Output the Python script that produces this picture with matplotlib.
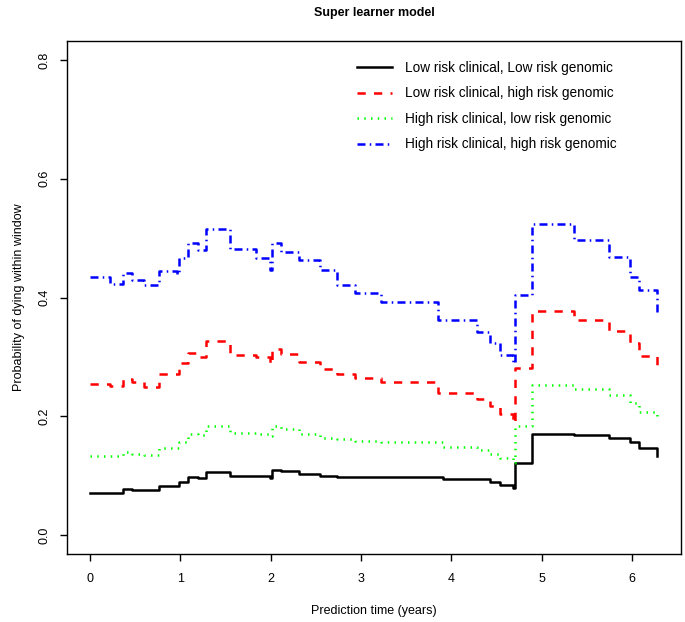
import matplotlib
matplotlib.use("Agg")
import matplotlib.pyplot as plt

plt.rcParams['font.family'] = ['Liberation Sans', 'DejaVu Sans']

# prediction times where the step curves change (years)
times = [0.00, 0.22, 0.37, 0.46, 0.60, 0.76, 0.96, 0.99, 1.09, 1.20, 1.29,
         1.55, 1.84, 1.99, 2.02, 2.12, 2.31, 2.55, 2.73, 2.93, 3.22, 3.85,
         3.91, 4.28, 4.43, 4.54, 4.68, 4.71, 4.89, 5.36, 5.75, 5.98, 6.08,
         6.28]

low_low = [0.071, 0.071, 0.077, 0.076, 0.075, 0.083, 0.083, 0.090, 0.098,
           0.096, 0.106, 0.100, 0.099, 0.096, 0.109, 0.107, 0.103, 0.100,
           0.098, 0.097, 0.097, 0.098, 0.095, 0.094, 0.089, 0.084, 0.079,
           0.122, 0.170, 0.168, 0.164, 0.157, 0.146, 0.133]

low_high = [0.254, 0.251, 0.262, 0.258, 0.250, 0.271, 0.271, 0.289, 0.306,
            0.300, 0.327, 0.303, 0.299, 0.288, 0.314, 0.305, 0.292, 0.279,
            0.272, 0.264, 0.257, 0.240, 0.240, 0.229, 0.217, 0.204, 0.188,
            0.282, 0.378, 0.362, 0.344, 0.324, 0.302, 0.273]

high_low = [0.133, 0.133, 0.140, 0.137, 0.134, 0.147, 0.147, 0.157, 0.170,
            0.168, 0.184, 0.172, 0.170, 0.167, 0.184, 0.178, 0.170, 0.164,
            0.161, 0.158, 0.157, 0.157, 0.149, 0.144, 0.136, 0.129, 0.121,
            0.183, 0.253, 0.246, 0.236, 0.223, 0.208, 0.195]

high_high = [0.434, 0.423, 0.441, 0.430, 0.421, 0.445, 0.440, 0.466, 0.491,
             0.480, 0.515, 0.481, 0.466, 0.446, 0.491, 0.477, 0.463, 0.446,
             0.421, 0.407, 0.393, 0.362, 0.362, 0.342, 0.323, 0.303, 0.289,
             0.404, 0.524, 0.497, 0.469, 0.435, 0.412, 0.372]

labels = ['Low risk clinical, Low risk genomic',
          'Low risk clinical, high risk genomic',
          'High risk clinical, low risk genomic',
          'High risk clinical, high risk genomic']

fig = plt.figure(figsize=(6.85, 6.22), dpi=100)
ax = fig.add_axes([0.0985, 0.1093, 0.8957, 0.8248])

lw = 1.8
ax.plot(times, low_low, drawstyle='steps-post', color='black', lw=lw, label=labels[0])
ax.plot(times, low_high, drawstyle='steps-post', color='#FF0000', lw=lw,
        dashes=(3.3, 3.3), label=labels[1])
ax.plot(times, high_low, drawstyle='steps-post', color='#00FF00', lw=lw,
        dashes=(0.6, 2.1), label=labels[2])
ax.plot(times, high_high, drawstyle='steps-post', color='#0000FF', lw=lw,
        dashes=(3.2, 1.7, 0.6, 1.7), label=labels[3])

ax.set_xlim(-0.249, 6.543)
ax.set_ylim(-0.032, 0.832)
ax.set_xticks(range(7))
ax.set_yticks([0.0, 0.2, 0.4, 0.6, 0.8])
ax.set_yticklabels(['0.0', '0.2', '0.4', '0.6', '0.8'], rotation=90, va='center')
ax.tick_params(direction='out', length=5, width=1, labelsize=9, pad=7)
ax.tick_params(axis='x', pad=9)
for s in ax.spines.values():
    s.set_linewidth(1)

ax.set_xlabel('Prediction time (years)', fontsize=9, labelpad=14)
ax.set_ylabel('Probability of dying within window', fontsize=9, labelpad=10)
ax.set_title('Super learner model', fontsize=9, fontweight='bold', pad=18)

ax.legend(loc='upper left', bbox_to_anchor=(357 / 685, 1 - 61 / 622),
          bbox_transform=fig.transFigure, frameon=False, fontsize=9.8,
          handlelength=2.57, handletextpad=0.96, labelspacing=0.84,
          borderpad=0, borderaxespad=0)

fig.savefig('out.png', dpi=100)
